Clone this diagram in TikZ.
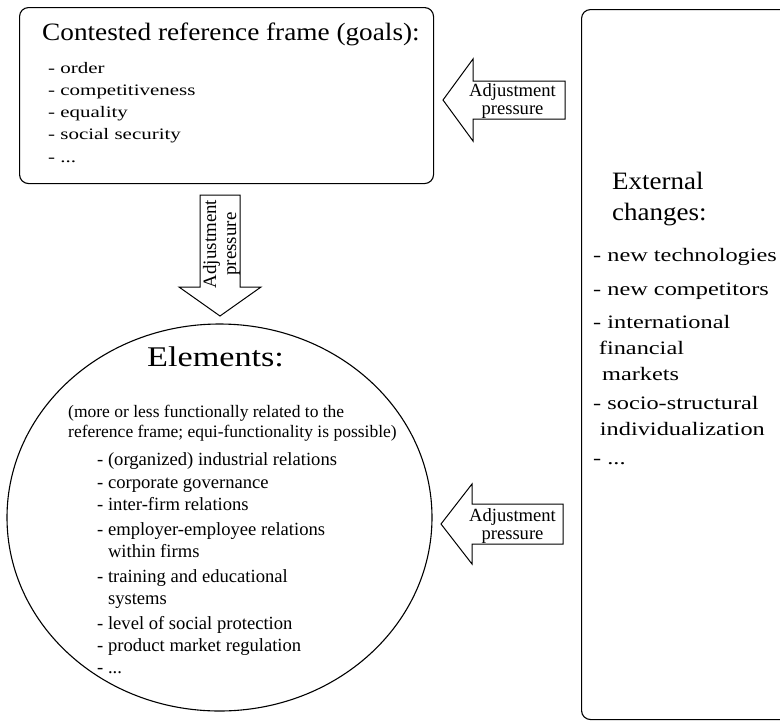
\documentclass[tikz,border=0pt]{standalone}
\usepackage{fontspec}
\setmainfont{Liberation Serif}
\usetikzlibrary{shapes.geometric}
\newcommand{\fsz}[2]{\fontsize{#1}{#2}\selectfont}
\tikzset{
  frame/.style={draw=black, line width=1.1pt, rounded corners=9pt, inner sep=0pt, anchor=north west},
  blockarrow/.style={draw=black, line width=1pt, fill=white, line join=miter},
  txt/.style={anchor=base west, inner sep=0pt},
  arrowtxt/.style={inner sep=0pt, font=\fsz{18.6}{18}},
}

\begin{document}
\begin{tikzpicture}[x=1pt, y=-1pt]
\useasboundingbox (0,0) rectangle (780,721);

% the three frames
\node[frame, minimum width=414pt, minimum height=176pt] (goals) at (19,7) {};
\node[frame, minimum width=230pt, minimum height=710pt] (changes) at (581,9) {};
\node[ellipse, draw=black, line width=1.1pt, inner sep=0pt,
      minimum width=425pt, minimum height=387pt] (elements) at (219.5,517.5) {};

% reference frame
\node[txt] (goalsT) at (42,40) {\scalebox{1.09}[1]{\fsz{25}{25}Contested reference frame (goals):}};
\node[txt] (goalsL) at (48,73) {\scalebox{1.31}[1]{\fsz{16}{22}\begin{tabular}[t]{@{}l@{}}
- order\\ - competitiveness\\ - equality\\ - social security\\[1pt] - ...\end{tabular}}};

% external changes
\node[txt] (changesT) at (612,189) {\scalebox{1.08}[1]{\fsz{25}{31}\begin{tabular}[t]{@{}l@{}}
External\\ changes:\end{tabular}}};
\node[txt] (changesL) at (593,261) {\scalebox{1.28}[1]{\fsz{19}{26}\begin{tabular}[t]{@{}l@{}}
- new technologies\\[8pt] - new competitors\\[7pt] - international\\ \hspace{4.5pt}financial\\
\hspace{7pt}markets\\[3pt] - socio-structural\\ \hspace{5.3pt}individualization\\[3pt] - ...\end{tabular}}};

% elements
\node[txt] (elementsT) at (147,366) {\scalebox{1.2}[1]{\fsz{28.5}{28}Elements:}};
\node[txt] (elementsN) at (68,417) {\fsz{17.5}{20}\begin{tabular}[t]{@{}l@{}}
(more or less functionally related to the\\ reference frame; equi-functionality is possible)\end{tabular}};
\node[txt] (elementsL) at (97,465) {\fsz{18.6}{22}\begin{tabular}[t]{@{}l@{}}
- (organized) industrial relations\\[1pt] - corporate governance\\ - inter-firm relations\\[3pt]
- employer-employee relations\\ \phantom{-}\ within firms\\[3pt] - training and educational\\
\phantom{-}\ systems\\[3pt] - level of social protection\\ - product market regulation\\ - ...\end{tabular}};

% adjustment pressure arrows
\draw[blockarrow] (443,100) -- (473,59) -- (473,81) -- (565,81) -- (565,119)
  -- (473,119) -- (473,141) -- cycle;
\node[arrowtxt, anchor=base] (pressA) at (512.5,96) {\begin{tabular}[t]{@{}c@{}}Adjustment\\ pressure\end{tabular}};

\draw[blockarrow] (441,524) -- (472,484) -- (472,504) -- (563,504) -- (563,544)
  -- (472,544) -- (472,564) -- cycle;
\node[arrowtxt, anchor=base] (pressB) at (512.5,521) {\begin{tabular}[t]{@{}c@{}}Adjustment\\ pressure\end{tabular}};

\draw[blockarrow] (220,316) -- (179,287) -- (200,287) -- (200,195) -- (240,195)
  -- (240,287) -- (261,287) -- cycle;
\node[arrowtxt, font=\fsz{18.9}{20}, rotate=90] (pressC) at (222,244) {\begin{tabular}{@{}c@{}}Adjustment\\ pressure\end{tabular}};
\end{tikzpicture}
\end{document}
